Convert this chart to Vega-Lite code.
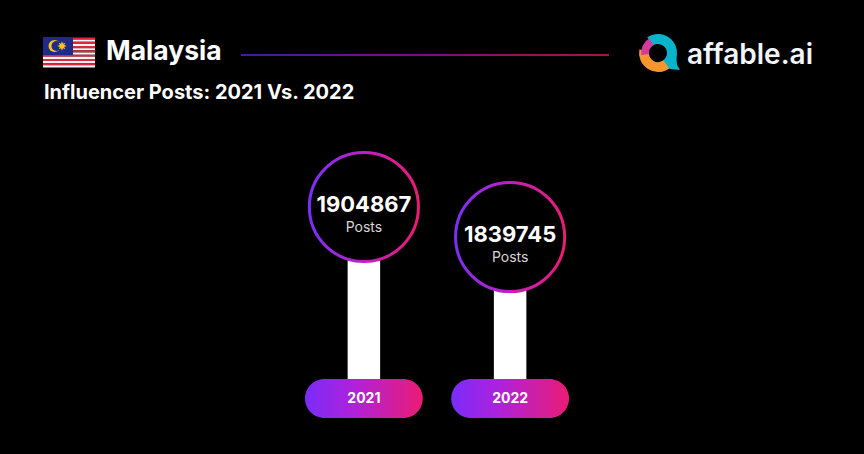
{"$schema":"https://vega.github.io/schema/vega-lite/v6.json","width":864,"height":454,"padding":0,"autosize":"none","background":"#000000","config":{"view":{"stroke":null},"font":"Inter","axis":{"grid":false}},
"title":{"text":"Influencer Posts: 2021 Vs. 2022","anchor":"start","frame":"group","dx":44,"offset":-103,"font":"Inter","fontSize":20,"fontWeight":700,"color":"#ffffff"},
"resolve":{"scale":{"x":"independent","y":"independent","color":"independent"}},
"layer":[
{"data":{"values":[{"year":"2021","posts":1904867},{"year":"2022","posts":1839745}]},
"encoding":{"x":{"field":"year","type":"nominal","axis":null,"scale":{"type":"band","domain":["2021","2022"],"range":[305,569],"paddingInner":0.1945,"paddingOuter":0}}},
"layer":[
{"mark":{"type":"bar","width":32.5,"fill":"#ffffff"},"encoding":{"y":{"field":"posts","type":"quantitative","axis":null,"scale":{"domain":[1368700,2354200],"zero":false,"nice":false}},"y2":{"datum":1531507}}},
{"mark":{"type":"bar","cornerRadius":19.5,"fill":{"gradient":"linear","x1":0,"y1":0.5,"x2":1,"y2":0.5,"stops":[{"offset":0,"color":"#7a2cfa"},{"offset":0.4,"color":"#ad22dc"},{"offset":1,"color":"#ea1c74"}]}},"encoding":{"y":{"datum":1531507,"type":"quantitative"},"y2":{"datum":1446850}}},
{"mark":{"type":"point","shape":"circle","size":11900,"filled":false,"fill":"#000000","fillOpacity":1,"opacity":1,"strokeWidth":3,"stroke":{"gradient":"linear","x1":0,"y1":0.5,"x2":1,"y2":0.5,"stops":[{"offset":0,"color":"#7a30f5"},{"offset":0.5,"color":"#c020c0"},{"offset":1,"color":"#ea1c74"}]}},"encoding":{"y":{"field":"posts","type":"quantitative"}}},
{"mark":{"type":"text","font":"Inter","fontSize":22,"fontWeight":700,"color":"#ffffff","dy":-2,"baseline":"middle"},"encoding":{"y":{"field":"posts","type":"quantitative"},"text":{"field":"posts","type":"quantitative","format":"d"}}},
{"mark":{"type":"text","font":"Inter","fontSize":14,"color":"#d8d8d8","dy":21,"baseline":"middle"},"encoding":{"y":{"field":"posts","type":"quantitative"},"text":{"value":"Posts"}}},
{"mark":{"type":"text","font":"Inter","fontSize":14,"fontWeight":700,"color":"#ffffff","dy":1,"baseline":"middle"},"encoding":{"y":{"datum":1489180,"type":"quantitative"},"text":{"field":"year","type":"nominal"}}}
]},
{"data":{"values":[{"stripe":1,"tone":"red"},{"stripe":2,"tone":"white"},{"stripe":3,"tone":"red"},{"stripe":4,"tone":"white"},{"stripe":5,"tone":"red"},{"stripe":6,"tone":"white"},{"stripe":7,"tone":"red"},{"stripe":8,"tone":"white"},{"stripe":9,"tone":"red"},{"stripe":10,"tone":"white"},{"stripe":11,"tone":"red"},{"stripe":12,"tone":"white"},{"stripe":13,"tone":"red"},{"stripe":14,"tone":"white"}]},
"mark":{"type":"rect"},
"encoding":{"x":{"datum":43,"type":"quantitative","axis":null,"scale":{"domain":[0,864],"nice":false}},"x2":{"datum":95},"y":{"field":"stripe","type":"ordinal","axis":null,"scale":{"type":"band","range":[37.5,67.5],"paddingInner":0,"paddingOuter":0}},"color":{"field":"tone","type":"nominal","legend":null,"scale":{"domain":["red","white"],"range":["#e0263c","#f4f4f4"]}}}},
{"data":{"values":[{"label":"header"}]},
"layer":[
{"mark":{"type":"rect","fill":"#1f2a8c"},"encoding":{"x":{"datum":43,"type":"quantitative","axis":null,"scale":{"domain":[0,864],"nice":false}},"x2":{"datum":73},"y":{"datum":37.5,"type":"quantitative","axis":null,"scale":{"domain":[454,0],"nice":false,"zero":false}},"y2":{"datum":55}}},
{"mark":{"type":"point","shape":"circle","size":144,"filled":true,"opacity":1,"color":"#f5c518"},"encoding":{"x":{"datum":54.5,"type":"quantitative"},"y":{"datum":46,"type":"quantitative"}}},
{"mark":{"type":"point","shape":"circle","size":100,"filled":true,"opacity":1,"color":"#1f2a8c"},"encoding":{"x":{"datum":56.5,"type":"quantitative"},"y":{"datum":46,"type":"quantitative"}}},
{"mark":{"type":"point","shape":"M0,-1L.2,-.45L.7,-.7L.45,-.2L1,0L.45,.2L.7,.7L.2,.45L0,1L-.2,.45L-.7,.7L-.45,.2L-1,0L-.45,-.2L-.7,-.7L-.2,-.45Z","size":90,"filled":true,"opacity":1,"color":"#f5c518"},"encoding":{"x":{"datum":62,"type":"quantitative"},"y":{"datum":46,"type":"quantitative"}}},
{"mark":{"type":"text","font":"Inter","fontSize":26.5,"fontWeight":700,"color":"#ffffff","align":"left","baseline":"alphabetic"},"encoding":{"x":{"datum":106,"type":"quantitative"},"y":{"datum":60,"type":"quantitative"},"text":{"value":"Malaysia"}}},
{"mark":{"type":"rect","fill":{"gradient":"linear","x1":0,"y1":0.5,"x2":1,"y2":0.5,"stops":[{"offset":0,"color":"#5a24d0"},{"offset":0.5,"color":"#9a1a9a"},{"offset":1,"color":"#e01a60"}]}},"encoding":{"x":{"datum":241,"type":"quantitative"},"x2":{"datum":609},"y":{"datum":54.3,"type":"quantitative"},"y2":{"datum":55.7}}},
{"mark":{"type":"arc","innerRadius":9,"outerRadius":19,"theta":-0.6,"theta2":3.0,"fill":"#08b4cc"},"encoding":{"x":{"datum":658,"type":"quantitative"},"y":{"datum":53,"type":"quantitative"}}},
{"mark":{"type":"point","shape":"M.4,-.8L.5,.5L.8,1L-.2,.9L-.6,.6Z","size":400,"filled":true,"opacity":1,"color":"#08b4cc"},"encoding":{"x":{"datum":672,"type":"quantitative"},"y":{"datum":60,"type":"quantitative"}}},
{"mark":{"type":"arc","innerRadius":9,"outerRadius":19,"theta":2.5,"theta2":4.9,"fill":"#f7962c"},"encoding":{"x":{"datum":658,"type":"quantitative"},"y":{"datum":53,"type":"quantitative"}}},
{"mark":{"type":"arc","innerRadius":9,"outerRadius":17,"theta":4.6,"theta2":5.75,"fill":"#d23a9e"},"encoding":{"x":{"datum":658,"type":"quantitative"},"y":{"datum":53,"type":"quantitative"}}},
{"mark":{"type":"text","font":"Inter","fontSize":28,"fontWeight":600,"color":"#f2f5fa","align":"left","baseline":"alphabetic"},"encoding":{"x":{"datum":687,"type":"quantitative"},"y":{"datum":64,"type":"quantitative"},"text":{"value":"affable.ai"}}}
]}
]}
